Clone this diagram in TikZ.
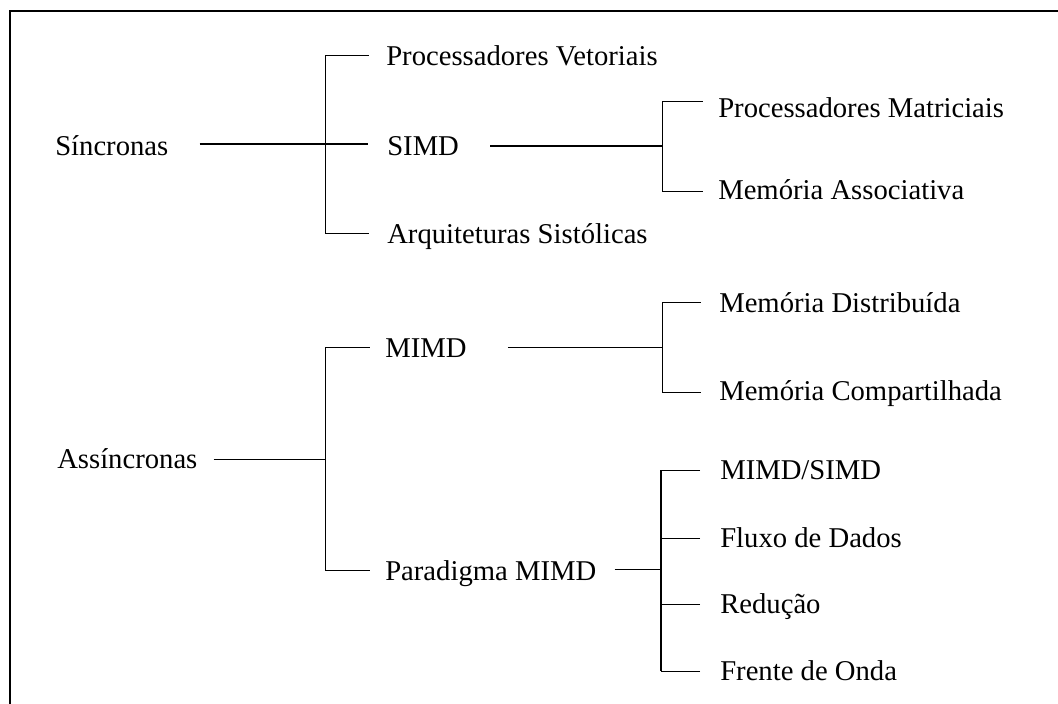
\documentclass[tikz,border=0pt]{standalone}
\usepackage{fontspec}
\setmainfont{Liberation Serif}
\usetikzlibrary{calc}

\begin{document}
\begin{tikzpicture}[x=0.75pt,y=-0.75pt,
    lbl/.style={anchor=base west,inner sep=0pt,font=\fontsize{21.5pt}{26pt}\selectfont},
    thin line/.style={line width=0.75pt},
    thick line/.style={line width=1.6pt}]
    \useasboundingbox (0,0) rectangle (1058,704);
    \draw[line width=1.5pt] (10,704) -- (10,11) -- (1058,11);
    % labels
    \node[lbl] (sinc) at (55,155) {Síncronas};
    \node[lbl] (vet) at (386,65) {Processadores Vetoriais};
    \node[lbl] (simd) at (387,155) {SIMD};
    \node[lbl] (arq) at (387,243) {Arquiteturas Sistólicas};
    \node[lbl] (mat) at (718,117) {Processadores Matriciais};
    \node[lbl] (assoc) at (718,199) {Memória Associativa};
    \node[lbl] (assinc) at (57,468) {Assíncronas};
    \node[lbl] (mimd) at (385,357) {MIMD};
    \node[lbl] (param) at (385,580) {Paradigma MIMD};
    \node[lbl] (dist) at (719,312) {Memória Distribuída};
    \node[lbl] (comp) at (719,400) {Memória Compartilhada};
    \node[lbl] (ms) at (720,479) {MIMD/SIMD};
    \node[lbl] (fluxo) at (720,547) {Fluxo de Dados};
    \node[lbl] (red) at (720,613) {Redução};
    \node[lbl] (onda) at (720,680) {Frente de Onda};
    % junctions
    \coordinate (j1) at (325,144);
    \coordinate (j2) at (662,146);
    \coordinate (j3) at (325,459);
    \coordinate (j4) at (662,347);
    \coordinate (j5) at (661,569);
    % Sincronas
    \draw[thick line] ($(sinc.base east)+(31,-11)$) -- ($(simd.base west)+(-19,-11)$);
    \draw[thin line] (j1) |- ($(vet.base west)+(-17,-10)$);
    \draw[thin line] (j1) |- ($(arq.base west)+(-18,-10)$);
    \draw[thick line] ($(simd.base east)+(31,-9)$) -- (j2);
    \draw[thin line] (j2) |- ($(mat.base west)+(-15,-16)$);
    \draw[thin line] (j2) |- ($(assoc.base west)+(-15,-8)$);
    % Assincronas
    \draw[thin line] ($(assinc.base east)+(16,-9)$) -- (j3);
    \draw[thin line] (j3) |- ($(mimd.base west)+(-15,-10)$);
    \draw[thin line] (j3) |- ($(param.base west)+(-15,-10)$);
    \draw[thin line] ($(mimd.base east)+(41,-10)$) -- (j4);
    \draw[thin line] (j4) |- ($(dist.base west)+(-18,-10)$);
    \draw[thin line] (j4) |- ($(comp.base west)+(-18,-8)$);
    \draw[thin line] ($(param.base east)+(18,-11)$) -- (j5);
    \foreach \n in {ms,fluxo,red,onda}{
      \coordinate (t\n) at ($(\n.base west)+(-20,-9)$);
      \draw[thin line] (t\n) -- (t\n -| j5);
    }
    \draw[thick line] (tms -| j5) -- (tonda -| j5);
\end{tikzpicture}
\end{document}
